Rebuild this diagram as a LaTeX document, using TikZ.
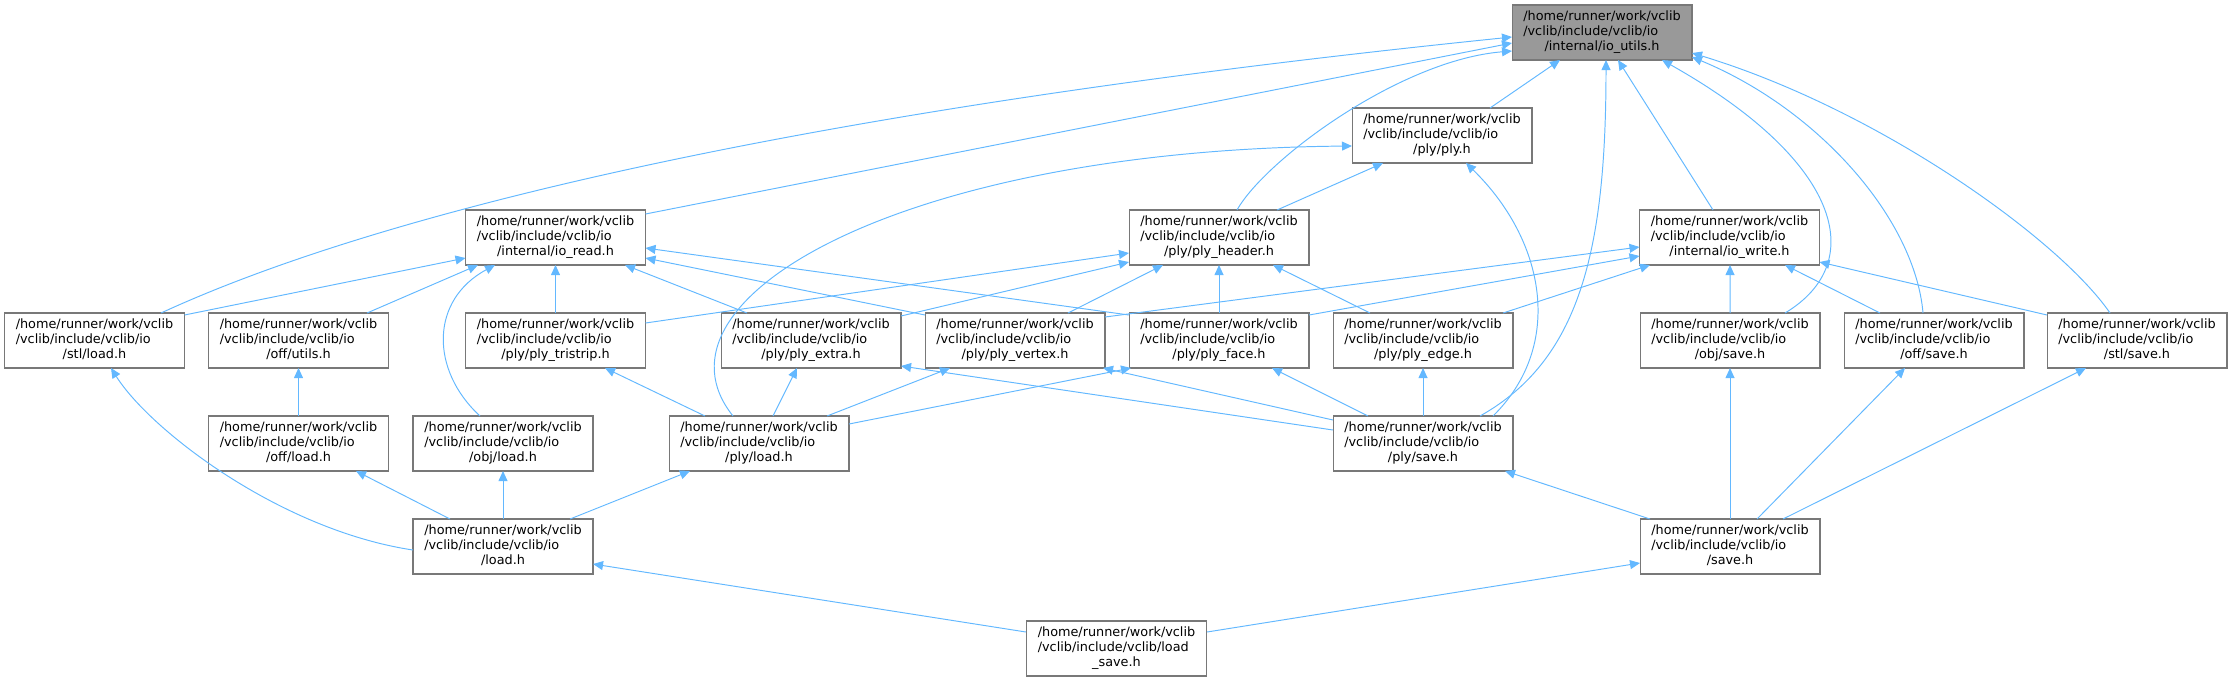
\documentclass[tikz,border=0pt]{standalone}
\usepackage{fontspec}
\setmainfont{DejaVu Sans}
\usetikzlibrary{arrows.meta,calc}
\definecolor{edgeblue}{RGB}{99,184,255}
\definecolor{boxborder}{RGB}{120,120,120}
\definecolor{boxfill}{RGB}{153,153,153}
\newcommand{\boxtxt}[3]{\begin{tabular}{@{}l@{}}#1\\#2\\\multicolumn{1}{@{}c@{}}{#3}\end{tabular}}
\newcommand{\hr}{/home/runner/work/vclib}
\newcommand{\vi}{/vclib/include/vclib/io}
\begin{document}
\begin{tikzpicture}[x=0.02cm,y=-0.02cm,
  file/.style={draw=boxborder, line width=0.6pt, fill=white, minimum width=3.6cm, minimum height=1.1cm, inner sep=0pt, font=\fontsize{7.3}{8.5}\selectfont},
  focus/.style={file, fill=boxfill},
  dep/.style={draw=edgeblue, line width=0.55pt, -{Triangle[length=5.7pt,width=5.1pt]}}]
\useasboundingbox (0,0) rectangle (2233,681);

% nodes
\node[focus] (utils) at (1602,32.5) {\boxtxt{\hr}{\vi}{/internal/io\_utils.h}};
\node[file] (ply) at (1442,135.5) {\boxtxt{\hr}{\vi}{/ply/ply.h}};
\node[file] (ioread) at (555.5,237.5) {\boxtxt{\hr}{\vi}{/internal/io\_read.h}};
\node[file] (plyheader) at (1219,237.5) {\boxtxt{\hr}{\vi}{/ply/ply\_header.h}};
\node[file] (iowrite) at (1729.5,237.5) {\boxtxt{\hr}{\vi}{/internal/io\_write.h}};
\node[file] (stlload) at (94.5,340.5) {\boxtxt{\hr}{\vi}{/stl/load.h}};
\node[file] (offutils) at (298.5,340.5) {\boxtxt{\hr}{\vi}{/off/utils.h}};
\node[file] (tristrip) at (555.5,340.5) {\boxtxt{\hr}{\vi}{/ply/ply\_tristrip.h}};
\node[file] (plyextra) at (811,340.5) {\boxtxt{\hr}{\vi}{/ply/ply\_extra.h}};
\node[file] (plyvertex) at (1015,340.5) {\boxtxt{\hr}{\vi}{/ply/ply\_vertex.h}};
\node[file] (plyface) at (1219,340.5) {\boxtxt{\hr}{\vi}{/ply/ply\_face.h}};
\node[file] (plyedge) at (1423,340.5) {\boxtxt{\hr}{\vi}{/ply/ply\_edge.h}};
\node[file] (objsave) at (1730,340.5) {\boxtxt{\hr}{\vi}{/obj/save.h}};
\node[file] (offsave) at (1934,340.5) {\boxtxt{\hr}{\vi}{/off/save.h}};
\node[file] (stlsave) at (2137,340.5) {\boxtxt{\hr}{\vi}{/stl/save.h}};
\node[file] (offload) at (298.5,443.5) {\boxtxt{\hr}{\vi}{/off/load.h}};
\node[file] (objload) at (503,443.5) {\boxtxt{\hr}{\vi}{/obj/load.h}};
\node[file] (plyload) at (759,443.5) {\boxtxt{\hr}{\vi}{/ply/load.h}};
\node[file] (plysave) at (1423,443.5) {\boxtxt{\hr}{\vi}{/ply/save.h}};
\node[file] (load) at (503,546.5) {\boxtxt{\hr}{\vi}{/load.h}};
\node[file] (save) at (1730,546.5) {\boxtxt{\hr}{\vi}{/save.h}};
\node[file] (loadsave) at (1116.5,648.5) {\boxtxt{\hr}{/vclib/include/vclib/load}{\_save.h}};

% edges into io_utils
\draw[dep] ($(stlload)+(66.5,-27.5)$) .. controls (330,235) and (700,120) .. ($(utils)+(-90,4.5)$);
\draw[dep] ($(ioread)+(90,-23.5)$) -- ($(utils)+(-90,10.5)$);
\draw[dep] ($(plyheader)+(18,-27.5)$) .. controls (1265,160) and (1400,60) .. ($(utils)+(-90,18.5)$);
\draw[dep] ($(ply)+(48,-27.5)$) -- ($(utils)+(-42,27.5)$);
\draw[dep] ($(plysave)+(57,-27.5)$) .. controls (1580,360) and (1606,250) .. ($(utils)+(4,27.5)$);
\draw[dep] ($(iowrite)+(-16.5,-27.5)$) -- ($(utils)+(16,27.5)$);
\draw[dep] ($(objsave)+(55,-27.5)$) .. controls (1870,262) and (1840,160) .. ($(utils)+(60,27.5)$);
\draw[dep] ($(offsave)+(-11,-27.5)$) .. controls (1915,220) and (1820,110) .. ($(utils)+(90,24.5)$);
\draw[dep] ($(stlsave)+(-27,-27.5)$) .. controls (2060,240) and (1880,110) .. ($(utils)+(90,20.5)$);

% edges into ply.h
\draw[dep] ($(plyheader)+(58,-27.5)$) -- ($(ply)+(-59,27.5)$);
\draw[dep] ($(plyload)+(-26,-27.5)$) .. controls (640,300) and (900,150) .. ($(ply)+(-90,10.5)$);
\draw[dep] ($(plysave)+(70,-27.5)$) .. controls (1565,345) and (1545,240) .. ($(ply)+(24,27.5)$);

% edges into io_read
\draw[dep] ($(stlload)+(90,-25.5)$) -- ($(ioread)+(-90,20.5)$);
\draw[dep] ($(offutils)+(68.5,-27.5)$) -- ($(ioread)+(-77.5,27.5)$);
\draw[dep] ($(objload)+(-23,-27.5)$) .. controls (430,370) and (430,300) .. ($(ioread)+(-60.5,27.5)$);
\draw[dep] ($(tristrip)+(0,-27.5)$) -- ($(ioread)+(0,27.5)$);
\draw[dep] ($(plyextra)+(-64,-27.5)$) -- ($(ioread)+(69.5,27.5)$);
\draw[dep] ($(plyvertex)+(-90,-25.5)$) -- ($(ioread)+(90,20.5)$);
\draw[dep] ($(plyface)+(-90,-25.5)$) -- ($(ioread)+(90,10.5)$);

% edges into ply_header
\draw[dep] ($(tristrip)+(90,-17.5)$) -- ($(plyheader)+(-90,15.5)$);
\draw[dep] ($(plyextra)+(90,-24.5)$) -- ($(plyheader)+(-90,24.5)$);
\draw[dep] ($(plyvertex)+(53,-27.5)$) -- ($(plyheader)+(-56,27.5)$);
\draw[dep] ($(plyface)+(0,-27.5)$) -- ($(plyheader)+(0,27.5)$);
\draw[dep] ($(plyedge)+(-53,-27.5)$) -- ($(plyheader)+(54,27.5)$);

% edges into io_write
\draw[dep] ($(plyvertex)+(90,-23.5)$) -- ($(iowrite)+(-90,9.5)$);
\draw[dep] ($(plyface)+(90,-25.5)$) -- ($(iowrite)+(-90,18.5)$);
\draw[dep] ($(plyedge)+(80,-27.5)$) -- ($(iowrite)+(-79.5,27.5)$);
\draw[dep] ($(objsave)+(0,-27.5)$) -- ($(iowrite)+(0.5,27.5)$);
\draw[dep] ($(offsave)+(-54,-27.5)$) -- ($(iowrite)+(55.5,27.5)$);
\draw[dep] ($(stlsave)+(-90,-25.5)$) -- ($(iowrite)+(90,24.5)$);

% edges from ply/load
\draw[dep] ($(plyload)+(-54,-27.5)$) -- ($(tristrip)+(49.5,27.5)$);
\draw[dep] ($(plyload)+(14,-27.5)$) -- ($(plyextra)+(-14,27.5)$);
\draw[dep] ($(plyload)+(68,-27.5)$) -- ($(plyvertex)+(-65,27.5)$);
\draw[dep] ($(plyload)+(90,-19.5)$) -- ($(plyface)+(-88,27.5)$);

% edges from ply/save
\draw[dep] ($(plysave)+(-90,-23.5)$) -- ($(plyvertex)+(88,27.5)$);
\draw[dep] ($(plysave)+(-90,-13.5)$) -- ($(plyextra)+(90,25.5)$);
\draw[dep] ($(plysave)+(-55,-27.5)$) -- ($(plyface)+(53,27.5)$);
\draw[dep] ($(plysave)+(0,-27.5)$) -- ($(plyedge)+(0,27.5)$);

% edges from load.h
\draw[dep] ($(load)+(-90,3.5)$) .. controls (280,530) and (150,430) .. ($(stlload)+(16.5,27.5)$);
\draw[dep] ($(load)+(-53,-27.5)$) -- ($(offload)+(57.5,27.5)$);
\draw[dep] ($(load)+(0,-27.5)$) -- ($(objload)+(0,27.5)$);
\draw[dep] ($(load)+(67,-27.5)$) -- ($(plyload)+(-69,27.5)$);
\draw[dep] ($(offload)+(0,-27.5)$) -- ($(offutils)+(0,27.5)$);

% edges from save.h
\draw[dep] ($(save)+(0,-27.5)$) -- ($(objsave)+(0,27.5)$);
\draw[dep] ($(save)+(27,-27.5)$) -- ($(offsave)+(-29,27.5)$);
\draw[dep] ($(save)+(53,-27.5)$) -- ($(stlsave)+(-51,27.5)$);
\draw[dep] ($(save)+(-80,-27.5)$) -- ($(plysave)+(82,27.5)$);

% edges from load_save.h
\draw[dep] ($(loadsave)+(-90.5,-16.5)$) -- ($(load)+(90,17.5)$);
\draw[dep] ($(loadsave)+(90.5,-16.5)$) -- ($(save)+(-90,16.5)$);
\end{tikzpicture}
\end{document}
